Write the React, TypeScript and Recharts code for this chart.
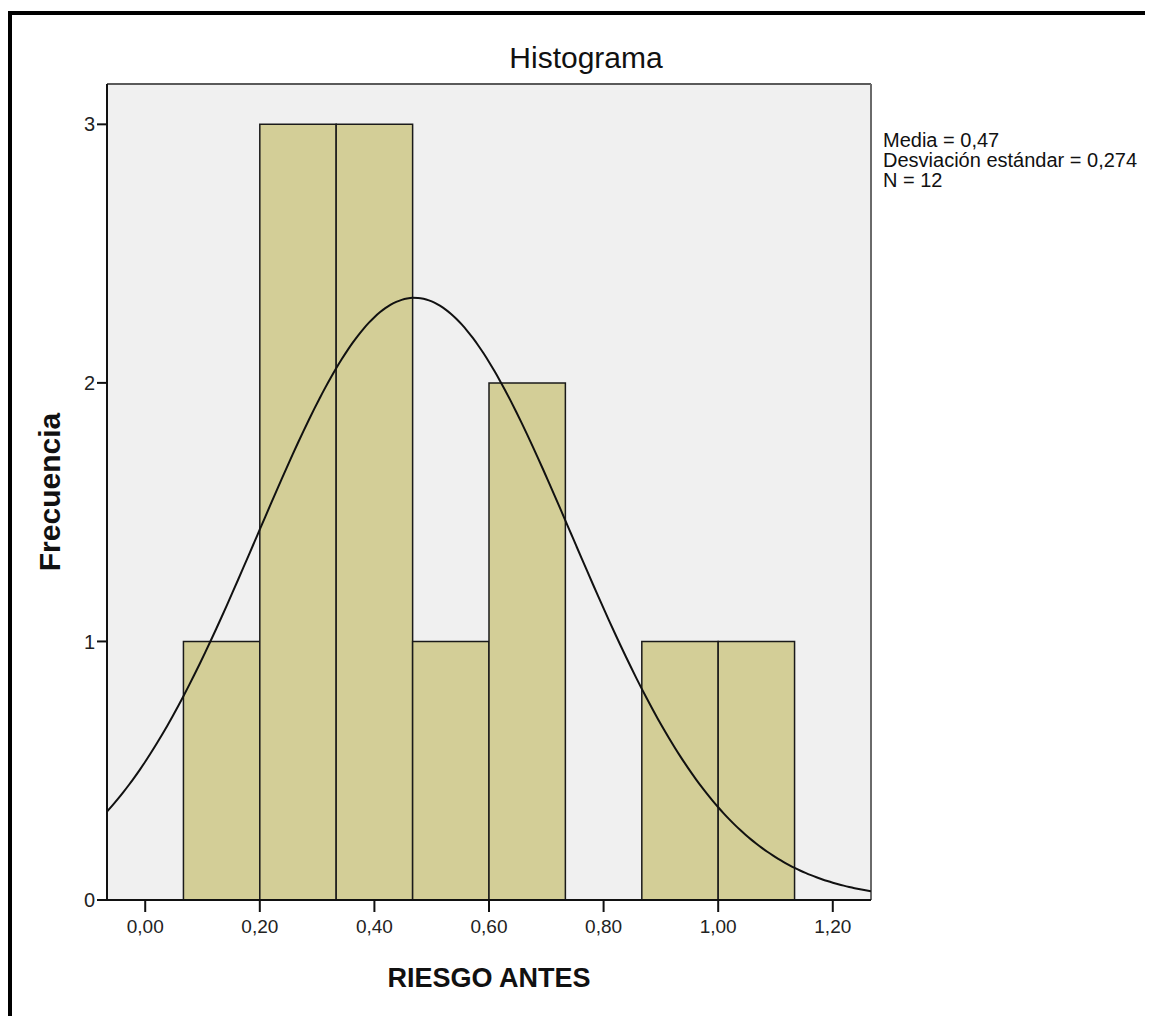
import React from "react";
import {
  ComposedChart,
  Line,
  XAxis,
  YAxis,
  CartesianGrid,
  ReferenceArea,
  ReferenceLine,
} from "recharts";

// Histogram bins of RIESGO ANTES (lower edge, upper edge, frequency)
const binStarts = [0.0667, 0.2, 0.3333, 0.4667, 0.6, 0.7333, 0.8667, 1.0];
const binEnds = [0.2, 0.3333, 0.4667, 0.6, 0.7333, 0.8667, 1.0, 1.1333];
const frequencies = [1, 3, 3, 1, 2, 0, 1, 1];

// Summary statistics shown beside the plot
const MEAN = 0.47;
const SD = 0.274;
const N = 12;
const statLines = ["Media = 0,47", "Desviación estándar = 0,274", "N = 12"];

const xTicks = [0, 0.2, 0.4, 0.6, 0.8, 1.0, 1.2];
const yTicks = [0, 1, 2, 3];
const X_MIN = -0.0667;
const X_MAX = 1.2667;
const Y_MAX = 3.156;

const BIN_WIDTH = binEnds[0] - binStarts[0];

// Fitted normal curve, scaled to the histogram's counts
const curveXs: number[] = [];
for (let i = 0; i <= 140; i++) curveXs.push(X_MIN + ((X_MAX - X_MIN) * i) / 140);
const curve = curveXs.map((x) => {
  const z = (x - MEAN) / SD;
  return {
    x,
    y: (N * BIN_WIDTH * Math.exp(-0.5 * z * z)) / (SD * Math.sqrt(2 * Math.PI)),
  };
});

const FONT = "'Liberation Sans', Arial, sans-serif";

const fmtX = (v: number) => v.toFixed(2).replace(".", ",");

export default function App() {
  return (
    <div
      style={{
        position: "relative",
        width: 1153,
        height: 1016,
        margin: "-8px 0 0 -8px",
        overflow: "hidden",
        background: "#fff",
        fontFamily: FONT,
      }}
    >
      <div style={{ position: "absolute", left: 0, top: 0 }}>
        <ComposedChart
          width={1153}
          height={1016}
          data={curve}
          margin={{ top: 84, right: 282, bottom: 56, left: 47 }}
        >
          <CartesianGrid horizontal={false} vertical={false} fill="#f0f0f0" />
          <XAxis
            dataKey="x"
            type="number"
            domain={[X_MIN, X_MAX]}
            ticks={xTicks}
            tickFormatter={fmtX}
            allowDataOverflow
            height={60}
            tickSize={12}
            tickMargin={8}
            axisLine={{ stroke: "#111", strokeWidth: 2 }}
            tickLine={{ stroke: "#111", strokeWidth: 2 }}
            tick={{ fill: "#222", fontSize: 19, fontFamily: FONT }}
          />
          <YAxis
            type="number"
            domain={[0, Y_MAX]}
            ticks={yTicks}
            allowDataOverflow
            width={60}
            tickSize={10}
            tickMargin={2}
            axisLine={{ stroke: "#111", strokeWidth: 2 }}
            tickLine={{ stroke: "#111", strokeWidth: 2 }}
            tick={{ fill: "#222", fontSize: 20, fontFamily: FONT }}
          />
          <ReferenceLine y={Y_MAX} stroke="#5a5a5a" strokeWidth={2} />
          <ReferenceLine x={X_MAX} stroke="#6a6a6a" strokeWidth={2} />
          {binStarts.map((x1, i) =>
            frequencies[i] > 0 ? (
              <ReferenceArea
                key={i}
                x1={x1}
                x2={binEnds[i]}
                y1={0}
                y2={frequencies[i]}
                fill="#d3ce97"
                fillOpacity={1}
                stroke="#1a1a1a"
                strokeWidth={1.5}
              />
            ) : null
          )}
          <Line
            dataKey="y"
            type="monotone"
            stroke="#111"
            strokeWidth={2}
            dot={false}
            activeDot={false}
            isAnimationActive={false}
          />
        </ComposedChart>
      </div>
      <svg
        width={1153}
        height={1016}
        style={{ position: "absolute", left: 0, top: 0, pointerEvents: "none" }}
      >
        <path d="M10,1016 V13 H1153" fill="none" stroke="#000" strokeWidth={4} />
        <text x={586} y={68} textAnchor="middle" fontSize={30} fill="#111" fontFamily={FONT}>
          Histograma
        </text>
        <text
          x={489}
          y={987}
          textAnchor="middle"
          fontSize={27}
          fontWeight="bold"
          fill="#111"
          fontFamily={FONT}
        >
          RIESGO ANTES
        </text>
        <text
          x={60}
          y={492}
          textAnchor="middle"
          fontSize={30}
          fontWeight="bold"
          fill="#111"
          fontFamily={FONT}
          transform="rotate(-90 60 492)"
        >
          Frecuencia
        </text>
        {statLines.map((s, i) => (
          <text key={s} x={883} y={147 + i * 20} fontSize={20} fill="#111" fontFamily={FONT}>
            {s}
          </text>
        ))}
      </svg>
    </div>
  );
}
